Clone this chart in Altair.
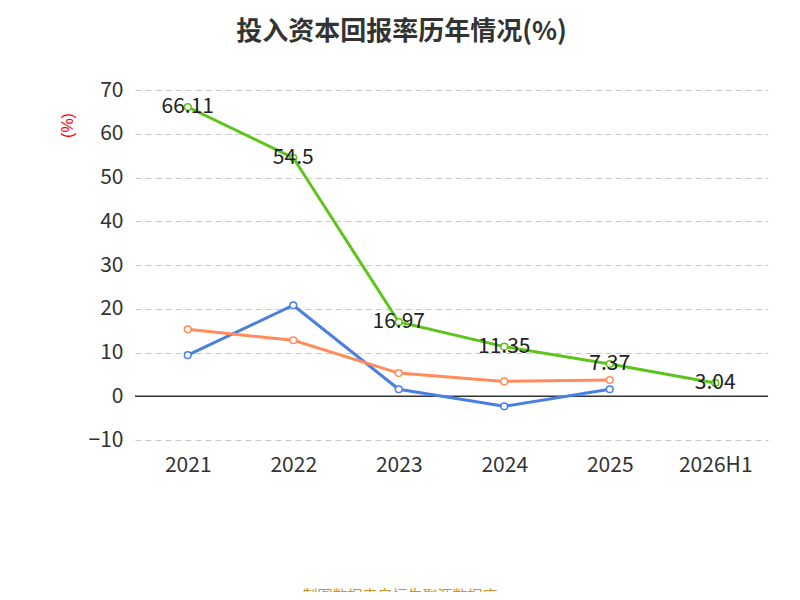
import altair as alt
import pandas as pd

years = ["2021", "2022", "2023", "2024", "2025", "2026H1"]
company = [66.11, 54.5, 16.97, 11.35, 7.37, 3.04]
ind_mean = [9.4, 20.8, 1.6, -2.3, 1.6, None]
ind_median = [15.3, 12.8, 5.3, 3.4, 3.7, None]
names = ["公司投入资本回报率", "行业均值", "行业中位数"]
colors = ["#5cc41a", "#4a7fe0", "#ff8c5a"]

rows = []
for name, series in zip(names, [company, ind_mean, ind_median]):
    for y, v in zip(years, series):
        if v is not None:
            rows.append({"year": y, "value": v, "series": name})
df = pd.DataFrame(rows)

font = "Noto Sans CJK SC"
x = alt.X("year:N", sort=years, scale=alt.Scale(type="point", padding=0.5),
          axis=alt.Axis(title=None, domain=False, ticks=False, labelAngle=0,
                        labelFontSize=21, labelColor="#333", labelPadding=14, labelFont=font))
y = alt.Y("value:Q", scale=alt.Scale(domain=[-10, 70], nice=False),
          axis=alt.Axis(values=list(range(-10, 71, 10)), title="(%)", titleColor="red",
                        titleFontWeight="normal", titleFontSize=16, titleAngle=-90,
                        titleX=-60, titleY=35, domain=False, ticks=False, labelFontSize=21,
                        labelColor="#333", labelPadding=12, labelFont=font,
                        grid=True, gridDash=[6, 4], gridColor="#c8c8c8"))
cscale = alt.Scale(domain=names, range=colors)

base = alt.Chart(df)
lines = base.mark_line(strokeWidth=3).encode(
    x=x, y=y, color=alt.Color("series:N", sort=names, scale=cscale, legend=None))
pts = base.mark_point(filled=False, fill="white", size=45, strokeWidth=1.5, opacity=1).encode(
    x=x, y=y,
    stroke=alt.Stroke("series:N", sort=names, scale=cscale,
                      legend=alt.Legend(title=None, orient="none", legendX=-65, legendY=425,
                                        direction="horizontal", labelFontSize=22, labelFont=font,
                                        labelColor="#333", labelLimit=0, symbolType="circle",
                                        symbolFillColor="white", symbolStrokeWidth=2,
                                        symbolSize=350, columnPadding=22)))
labels = base.transform_filter(alt.datum.series == names[0]).mark_text(
    fontSize=21, color="#222", font=font).encode(x=x, y=y, text=alt.Text("value:Q"))
zero = alt.Chart(pd.DataFrame({"v": [0]})).mark_rule(color="#333", strokeWidth=1.5).encode(y="v:Q")
source = alt.Chart(pd.DataFrame({"t": ["制图数据来自恒生聚源数据库"]})).mark_text(
    fontSize=15, color="#c8962a", font=font, baseline="middle").encode(
    text="t:N", x=alt.value(265), y=alt.value(506))

chart = alt.layer(zero, lines, pts, labels, source).properties(
    width=633, height=350,
    autosize=alt.AutoSizeParams(type="none"),
    padding={"left": 127, "top": 82, "right": 24, "bottom": 152},
    title=alt.TitleParams("投入资本回报率历年情况(%)", fontSize=26, font=font, fontWeight="bold",
                          color="#333", dx=-50, offset=34),
).configure_view(stroke=None)

chart.save("out.html", embed_options={"renderer": "svg", "actions": False})
